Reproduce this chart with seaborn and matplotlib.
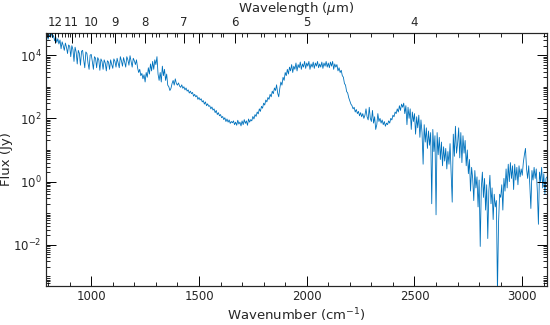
import numpy as np
import pandas as pd
import seaborn as sns
import matplotlib
matplotlib.use("Agg")
import matplotlib.pyplot as plt
from matplotlib.ticker import FixedLocator, LogLocator, NullFormatter, MultipleLocator

# wavenumber grid of the spectrum (cm^-1), 5 cm^-1 sampling
wn_start, wn_stop, wn_step = 790, 3115, 5

# log10 flux (Jy)
logflux_fringes = [  # 790 - 1395
    4.55, 4.62, 4.50, 4.65, 4.58, 4.70, 4.55, 4.62, 4.45, 4.58,
    4.40, 4.52, 4.35, 4.48, 4.20, 4.42, 4.30, 4.15, 4.38, 4.25,
    4.05, 4.32,
    4.28, 3.95, 4.30, 4.18, 3.80, 4.25, 4.10, 3.72, 4.15, 4.05,
    3.68, 4.12, 4.15, 3.85, 3.60, 4.10, 4.05, 3.75, 3.55, 4.00,
    4.02, 3.80, 3.55, 3.95, 3.90, 3.60, 3.92, 3.85, 3.52, 3.88,
    3.80, 3.55, 3.85, 3.75, 3.50, 3.82, 3.78, 3.55, 3.85, 3.70,
    3.58, 3.88, 3.80, 3.62, 3.90, 3.75, 3.60, 3.95, 3.82, 3.65,
    3.92, 3.78, 3.62, 3.95, 3.85, 3.68, 3.98, 3.80, 3.62, 3.90,
    3.82, 3.70, 3.85, 3.60, 3.45, 3.55, 3.35, 3.42, 3.25, 3.38,
    3.15, 3.45, 3.30, 3.60, 3.40, 3.72, 3.50, 3.80, 3.55, 3.85,
    3.70, 3.95, 3.40, 3.20, 3.45, 3.15, 3.65, 3.35, 3.55, 3.20,
    3.40, 3.05, 3.00, 2.88, 2.95, 3.10, 3.20, 3.05, 3.25, 3.10,
]
logflux_trough = [  # 1400 - 2195
    3.05, 3.12, 3.02, 2.98, 3.06, 2.95, 3.00, 2.90, 2.96, 2.86,
    2.90, 2.80, 2.86, 2.78, 2.82, 2.70, 2.76, 2.68, 2.72, 2.60,
    2.66, 2.58, 2.62, 2.52, 2.56, 2.45, 2.52, 2.40, 2.46, 2.38,
    2.40, 2.30, 2.36, 2.26, 2.30, 2.18, 2.25, 2.12, 2.18, 2.08,
    2.12, 2.02, 2.06, 1.96, 2.02, 1.90, 1.98, 1.88, 1.95, 1.84,
    1.90, 1.86, 1.92, 1.80, 1.88, 1.78, 1.94, 1.82, 1.88, 1.76,
    1.92, 1.80, 1.96, 1.84, 1.92, 1.78, 1.98, 1.88, 1.96, 1.92,
    2.06, 1.98, 2.12, 2.06, 2.20, 2.14, 2.30, 2.22, 2.38, 2.32,
    2.48, 2.42, 2.58, 2.52, 2.66, 2.60, 2.76, 2.68, 2.86, 2.78,
    2.96, 2.88, 3.06, 2.80, 2.68, 2.95, 3.15, 3.05, 3.30, 3.20,
    3.45, 3.35, 3.55, 3.40, 3.62, 3.50, 3.70, 3.45, 3.65, 3.55,
    3.75, 3.50, 3.70, 3.60, 3.78, 3.55, 3.72, 3.62, 3.80, 3.58,
    3.75, 3.65, 3.80, 3.55, 3.72, 3.62, 3.78, 3.58, 3.75, 3.65,
    3.80, 3.60, 3.72, 3.62, 3.78, 3.58, 3.75, 3.65, 3.80, 3.62,
    3.75, 3.60, 3.78, 3.65, 3.80, 3.55, 3.72, 3.62, 3.70, 3.50,
    3.60, 3.45, 3.52, 3.35, 3.30, 3.10, 3.05, 2.85, 2.80, 2.65,
]
logflux_noisy = [  # 2200 - 3115
    2.55, 2.45, 2.40, 2.30, 2.35, 2.20, 2.28, 2.15, 2.22, 2.08,
    2.18, 2.05, 2.15, 2.00, 2.10, 2.30, 2.05, 1.95, 2.35, 2.00,
    1.90, 2.25, 1.85, 2.05, 1.65, 1.80, 2.15, 1.90, 2.00, 1.85,
    1.95, 1.80, 1.90, 1.75, 1.85, 1.80, 1.92, 1.85, 2.00, 1.95,
    2.10, 2.05, 2.20, 2.15, 2.30, 2.20, 2.40, 2.25, 2.45, 2.35,
    2.48, 2.15, 2.40, 1.80, 2.35, 2.00, 2.30, 1.65, 2.20, 1.90,
    2.15, 1.50, 2.05, 1.70, 2.10, 1.40, 1.95, 1.55, 0.55, 1.80,
    1.25, 1.70, 1.05, 1.60, 1.15, 1.55, -0.70, 1.65, 0.95, 1.45,
    -1.05, 1.55, 0.85, 1.40, 0.70, 1.25, 0.50, 1.10, 0.65, 1.05,
    0.40, 0.95, 0.55, 1.20, 0.30, -0.65, 1.50, 0.80, 1.75, 0.90,
    1.20, 1.70, 0.75, 1.55, 0.60, 1.45, 0.90, 1.30, 0.50, 1.00,
    0.25, 0.70, -0.30, 0.45, 0.10, -0.60, 0.35, -0.20, 0.15, -0.80,
    0.05, -2.05, -0.20, 0.30, -0.50, 0.10, -0.90, -0.10, -1.80, -0.30,
    0.20, -0.70, -0.20, -1.20, -0.40, -0.80, -0.60, -3.50, -1.30, -0.40,
    -0.50, -0.10, -0.90, 0.10, -0.30, 0.40, -0.20, 0.55, 0.00, 0.60,
    0.10, 0.50, -0.25, 0.55, 0.05, 0.45, -0.10, 0.50, 0.15, 0.40,
    0.20, 0.60, 0.85, 1.05, 0.40, 0.10, 0.50, -0.10, -0.85, 0.35,
    0.05, 0.45, 0.10, 0.40, -0.30, -1.35, 0.30, 0.00, 0.45, -0.20,
    0.25, -0.40, 0.10, 0.15,
]

wavelength_ticks = [4, 5, 6, 7, 8, 9, 10, 11, 12]

wn = np.arange(wn_start, wn_stop + 1, wn_step)
logflux = np.array(logflux_fringes + logflux_trough + logflux_noisy)
assert len(wn) == len(logflux)
df = pd.DataFrame({"wavenumber": wn, "flux": 10.0 ** logflux})

sns.set_theme(style="ticks", rc={
    "axes.linewidth": 0.8,
    "axes.axisbelow": False,
    "xtick.labelsize": 8.5,
    "ytick.labelsize": 8.5,
    "axes.labelsize": 9.5,
})
plt.rcParams["font.family"] = ["DejaVu Sans"]
tick_kw = dict(direction="in", color="black", pad=3)

fig, ax = plt.subplots(figsize=(5.5, 3.25), dpi=100)
fig.subplots_adjust(left=0.0836, right=0.9946, bottom=0.12, top=0.8985)

sns.lineplot(data=df, x="wavenumber", y="flux", ax=ax, color="#0072BD",
             linewidth=0.6, estimator=None)

ax.set_yscale("log")
ax.set_xlim(790, 3115)
ax.set_ylim(5e-4, 5e4)

ax.xaxis.set_major_locator(FixedLocator([1000, 1500, 2000, 2500, 3000]))
ax.xaxis.set_minor_locator(MultipleLocator(100))
ax.yaxis.set_major_locator(FixedLocator([1e-2, 1e0, 1e2, 1e4]))
ax.yaxis.set_minor_locator(LogLocator(base=10, subs=np.arange(1, 10), numticks=100))
ax.yaxis.set_minor_formatter(NullFormatter())
ax.set_xlabel("Wavenumber (cm$^{-1}$)", labelpad=2)
ax.set_ylabel("Flux (Jy)", labelpad=0)

# wavelength axis on top
top = ax.twiny()
top.set_xlim(ax.get_xlim())
top.set_xticks([1e4 / w for w in wavelength_ticks])
top.set_xticklabels([str(w) for w in wavelength_ticks])
wl_minor = [round(v, 1) for v in np.arange(5.2, 12.7, 0.2) if abs(v - round(v)) > 0.05]
top.set_xticks([1e4 / w for w in wl_minor], minor=True)
top.set_xlabel("Wavelength ($\\mu$m)", labelpad=3)

ax.tick_params(which="both", bottom=True, left=True, top=True, right=True,
               labeltop=False, **tick_kw)
ax.tick_params(which="major", length=7, width=0.7)
ax.tick_params(which="minor", length=3, width=0.6)
top.tick_params(which="both", top=True, bottom=False, **tick_kw)
top.tick_params(which="major", length=7, width=0.7)
top.tick_params(which="minor", length=3, width=0.6)

fig.savefig("out.png", dpi=100)
